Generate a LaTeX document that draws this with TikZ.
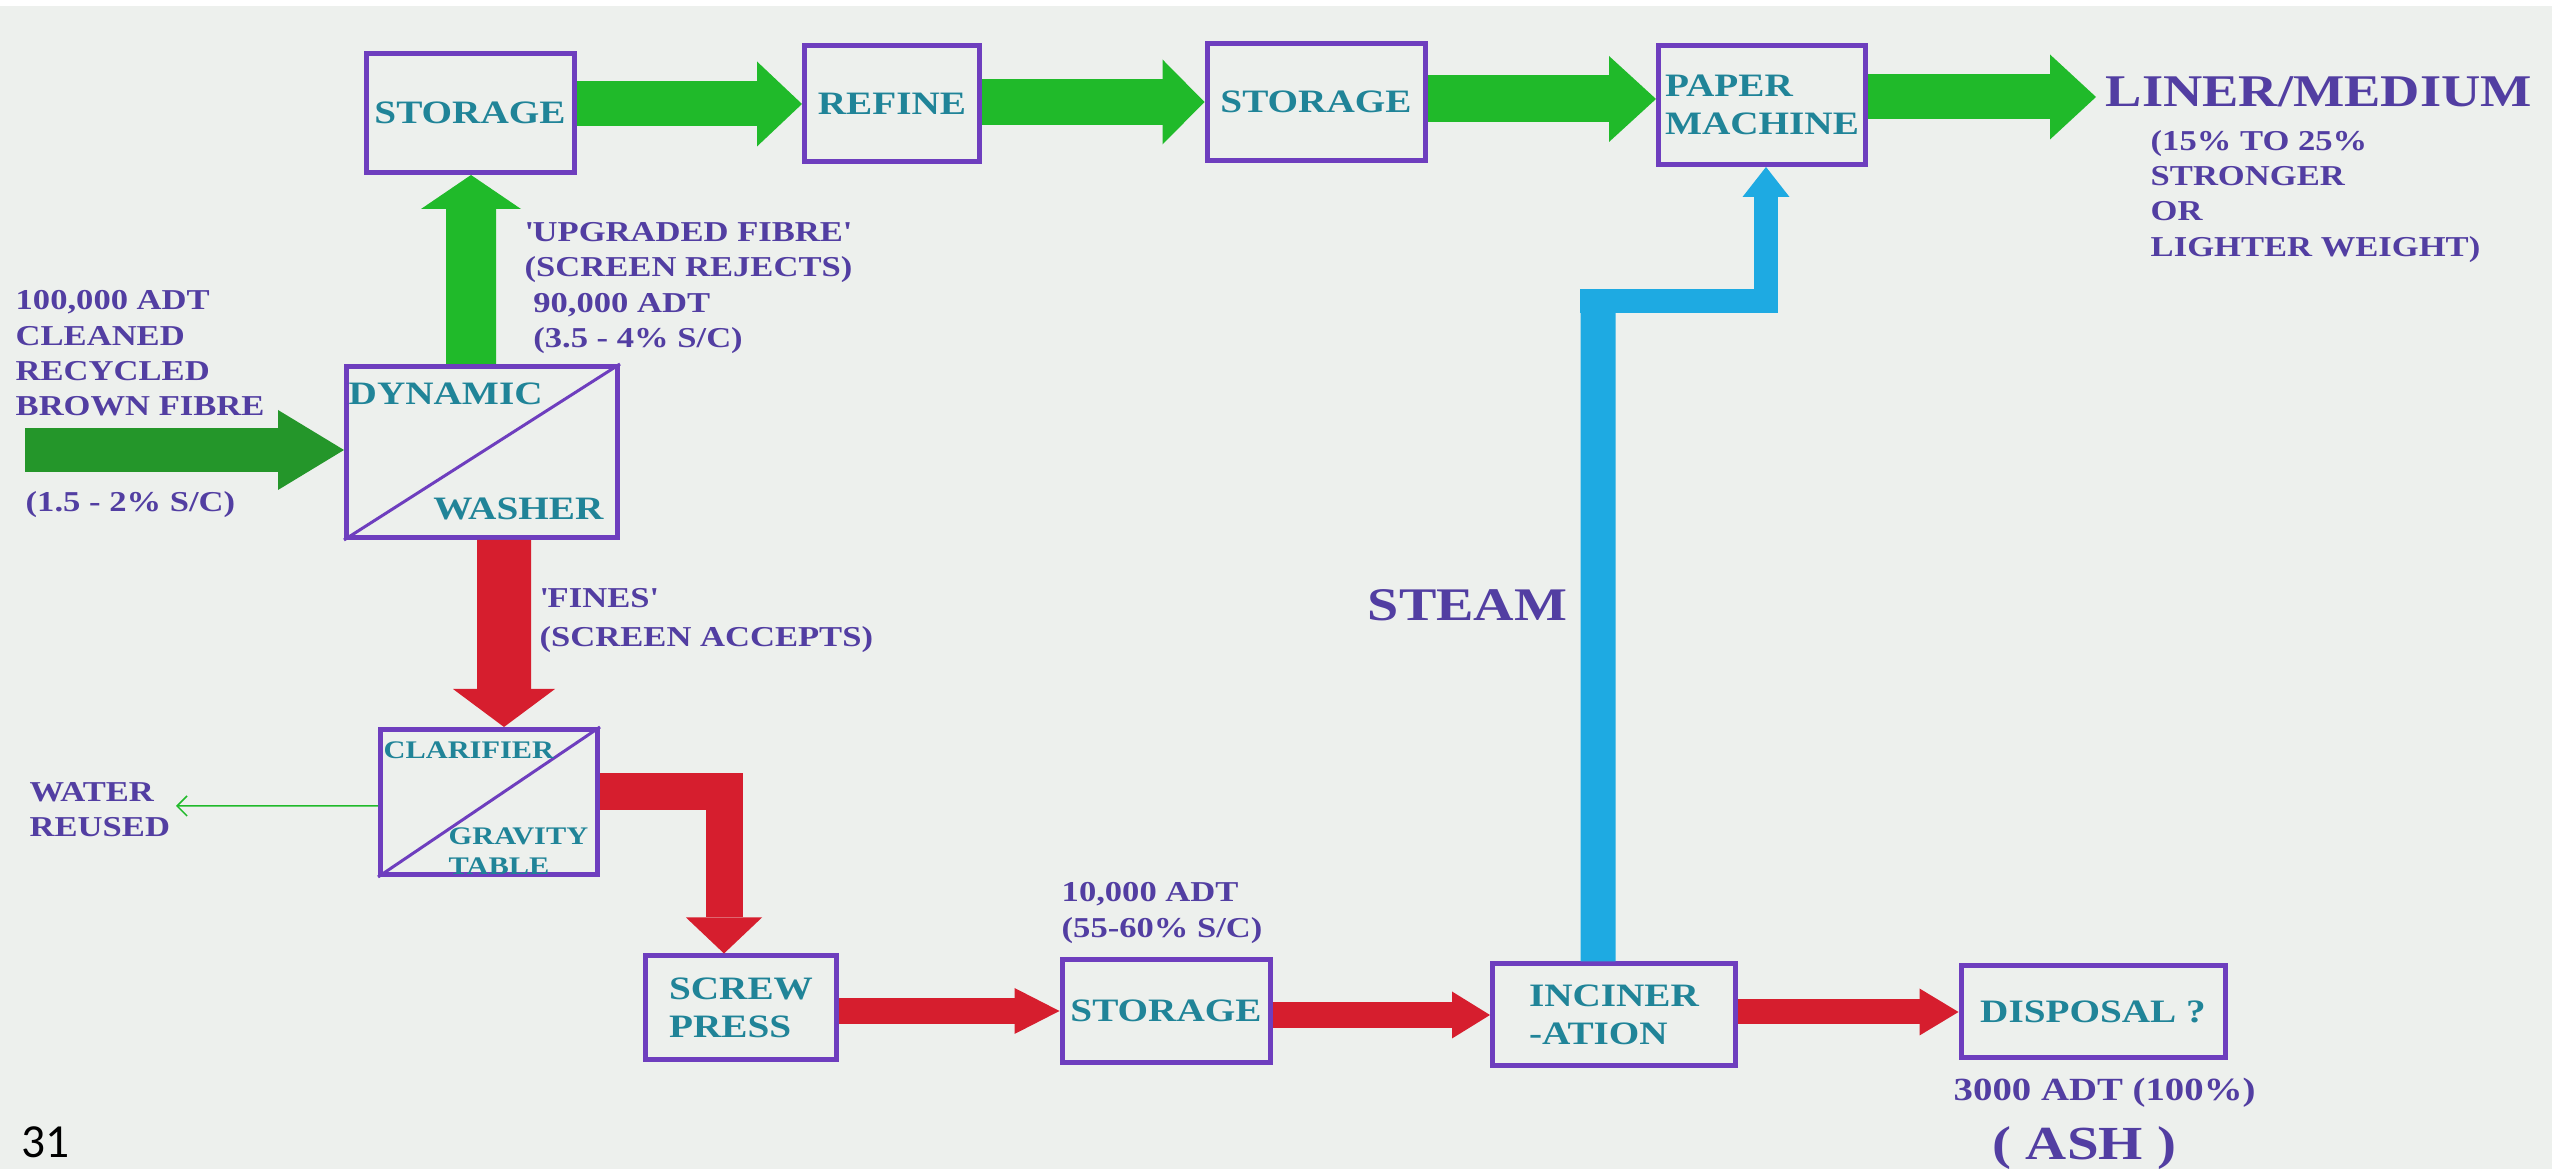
\documentclass[tikz,border=0pt]{standalone}
\usepackage{fontspec}
\setmainfont{Liberation Serif}[FakeStretch=1.2]
\newfontfamily\slidefont{Carlito}
\usetikzlibrary{arrows.meta}
\definecolor{boxpurple}{RGB}{110,62,190}
\definecolor{boxteal}{RGB}{32,132,152}
\definecolor{labpurple}{RGB}{82,62,162}
\definecolor{fibregreen}{RGB}{32,186,42}
\definecolor{feedgreen}{RGB}{36,150,42}
\definecolor{finesred}{RGB}{214,30,46}
\definecolor{steamblue}{RGB}{30,170,226}
\definecolor{paperbg}{RGB}{237,240,237}

\begin{document}
\begin{tikzpicture}[x=0.1mm,y=-0.1mm,
    unit/.style={draw=boxpurple,line width=0.5mm,text=boxteal,align=left,inner sep=0pt,
      font=\fontsize{9.3}{10.8}\selectfont\bfseries},
    boxtxt/.style={text=boxteal,inner sep=0pt,font=\fontsize{9.3}{10.8}\selectfont\bfseries},
    smalltxt/.style={text=boxteal,inner sep=0pt,align=left,font=\fontsize{7.2}{8.5}\selectfont\bfseries},
    txt/.style={text=labpurple,align=left,inner sep=0pt,font=\fontsize{8.2}{10}\selectfont\bfseries},
    split/.style={draw=boxpurple,line width=0.3mm},
    head/.style 2 args={-{Triangle[length=#1,width=#2,line width=0pt]}}]
		\useasboundingbox (0,0) rectangle (2552,1169);
		\fill[paperbg] (0,0) rectangle (2552,1169);
		\fill[white] (0,0) rectangle (2552,6);

		% units
		\node[unit,minimum width=20.8mm,minimum height=11.9mm] (stor1) at (470,113) {STORAGE};
		\node[unit,minimum width=17.5mm,minimum height=11.6mm] (refine) at (892,104) {REFINE};
		\node[unit,minimum width=21.8mm,minimum height=11.7mm] (stor2) at (1316,102) {STORAGE};
		\node[unit,minimum width=20.7mm,minimum height=11.9mm] (paper) at (1762,105) {PAPER\\MACHINE};
		\node[unit,minimum width=27.1mm,minimum height=17.1mm] (wash) at (482,452) {};
		\node[unit,minimum width=21.7mm,minimum height=14.5mm] (clar) at (489,802) {};
		\node[unit,minimum width=19.1mm,minimum height=10.4mm] (press) at (741,1008) {SCREW\\PRESS};
		\node[unit,minimum width=20.8mm,minimum height=10.3mm] (stor3) at (1166,1011) {STORAGE};
		\node[unit,minimum width=24.3mm,minimum height=10.2mm] (incin) at (1614,1015) {INCINER\\-ATION};
		\node[unit,minimum width=26.4mm,minimum height=9.2mm] (disp) at (2093,1012) {DISPOSAL ?};

		\draw[split] (wash.south west) -- (wash.north east);
		\node[boxtxt,anchor=west] (dyn) at (348,394) {DYNAMIC};
		\node[boxtxt,anchor=east] (wsh) at (604,509) {WASHER};
		\draw[split] (clar.south west) -- (clar.north east);
		\node[smalltxt,anchor=west] (clartop) at (383,750) {CLARIFIER};
		\node[smalltxt,anchor=north west] (gravity) at (448,827) {GRAVITY\\TABLE};

		% fibre line
		\coordinate (feedin) at (25,450);
		\draw[feedgreen,line width=4.4mm,head={6.6mm}{8mm}] (feedin) -- (feedin -| wash.west);
		\draw[fibregreen,line width=5mm,head={3.4mm}{10mm}] ([xshift=-1.1mm]wash.north) -- ([xshift=0.1mm]stor1.south);
		\draw[fibregreen,line width=4.5mm,head={4.5mm}{8.5mm}] (stor1.east |- refine) -- (refine.west);
		\draw[fibregreen,line width=4.6mm,head={4.2mm}{8.5mm}] (refine.east |- stor2) -- (stor2.west);
		\coordinate (pmin) at ([yshift=0.6mm]paper.west);
		\draw[fibregreen,line width=4.7mm,head={4.7mm}{8.6mm}] (stor2.east |- pmin) -- (pmin);
		\coordinate (linerin) at (2096,97);
		\draw[fibregreen,line width=4.5mm,head={4.6mm}{8.5mm}] (paper.east |- linerin) -- (linerin);

		% fines line
		\draw[finesred,line width=5.4mm,head={3.8mm}{10.2mm}] ([xshift=2.2mm]wash.south) -- ([xshift=1.5mm]clar.north);
		\draw[finesred,line width=3.7mm,head={3.6mm}{7.6mm}] ([yshift=1mm]clar.east) -| ([xshift=-1.7mm]press.north);
		\draw[finesred,line width=2.6mm,head={4.5mm}{4.6mm}] (press.east |- stor3) -- (stor3.west);
		\draw[finesred,line width=2.6mm,head={3.8mm}{4.7mm}] (stor3.east |- incin) -- (incin.west);
		\draw[finesred,line width=2.5mm,head={3.9mm}{4.7mm}] (incin.east |- disp) -- (disp.west);
		\coordinate (waterout) at (176,806);
		\draw[fibregreen,line width=0.15mm,-{Straight Barb[length=1mm,width=2mm]}] ([yshift=-0.4mm]clar.west) -- (waterout);

		% steam
		\coordinate (stmknee) at (1598,290);
		\coordinate (stmjog) at (1580,301);
		\draw[steamblue,line width=3.5mm] ([xshift=-1.6mm]incin.north) -- (stmknee);
		\draw[steamblue,line width=2.4mm,head={3mm}{4.7mm}] (stmjog) -| ([xshift=0.4mm]paper.south);

		% labels
		\node[txt,anchor=north west] (feedlbl) at (15,290) {100,000 ADT\\CLEANED\\RECYCLED\\BROWN FIBRE};
		\node[txt,anchor=west] (feedsc) at (25,505) {(1.5 - 2\% S/C)};
		\node[txt,anchor=north west] (upgr) at (524,222) {\textquotesingle UPGRADED FIBRE\textquotesingle\\(SCREEN REJECTS)\\\ 90,000 ADT\\\ (3.5 - 4\% S/C)};
		\node[txt,anchor=north west,font=\fontsize{8.2}{11}\selectfont\bfseries] (fines) at (539,588) {\textquotesingle FINES\textquotesingle\\(SCREEN ACCEPTS)};
		\node[txt,anchor=north west] (water) at (29,782) {WATER\\REUSED};
		\node[txt,anchor=north west] (tenk) at (1061,882) {10,000 ADT\\(55-60\% S/C)};
		\node[txt,anchor=west,font=\fontsize{12.9}{14}\selectfont\bfseries] (liner) at (2105,92) {LINER/MEDIUM};
		\node[txt,anchor=north west] (gain) at (2150,130) {(15\% TO 25\%\\STRONGER\\OR\\LIGHTER WEIGHT)};
		\node[txt,anchor=east,font=\fontsize{13.3}{15}\selectfont\bfseries] (steam) at (1568,605) {STEAM};
		\node[txt,anchor=west,font=\fontsize{9.2}{11}\selectfont\bfseries] (ashton) at (1953,1093) {3000 ADT (100\%)};
		\node[txt,anchor=west,font=\fontsize{13.5}{15}\selectfont\bfseries] (ash) at (1992,1148) {( ASH )};
		\node[anchor=west,inner sep=0pt,font=\slidefont\fontsize{13.5}{15}\selectfont] (slide) at (21,1142) {31};
	\end{tikzpicture}
\end{document}
